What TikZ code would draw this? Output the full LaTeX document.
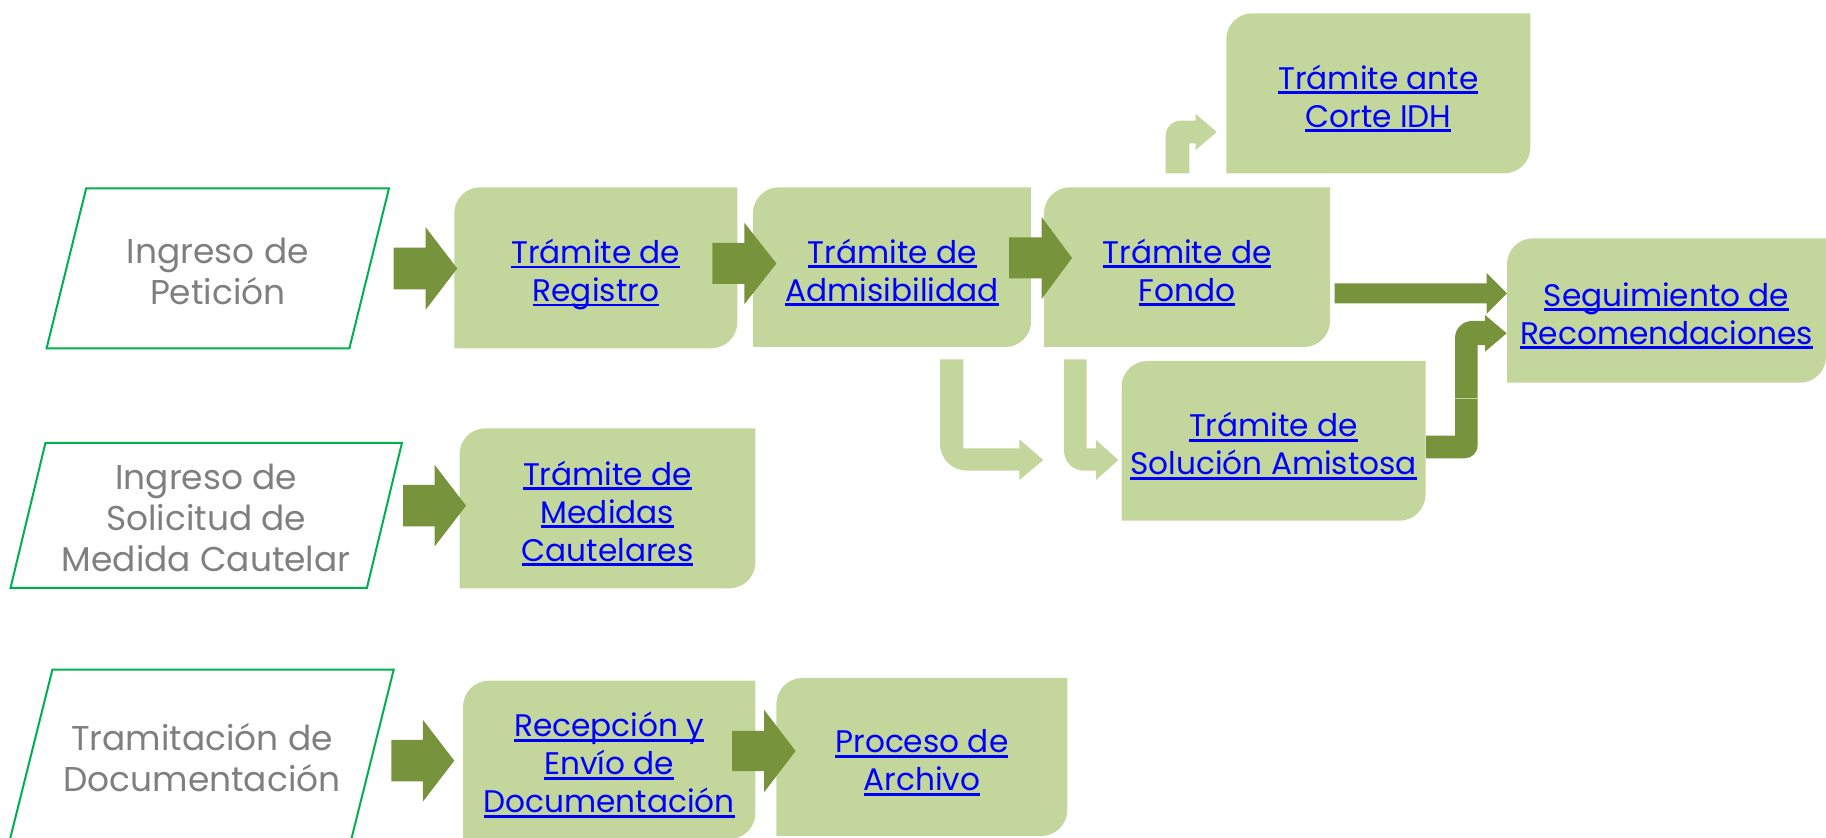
\documentclass[tikz,border=0pt]{standalone}
\usepackage{fontspec}
\setmainfont{Poppins}
\usetikzlibrary{backgrounds}
\definecolor{lgreen}{HTML}{C3D69B}
\definecolor{dgreen}{HTML}{77933C}
\definecolor{pgreen}{HTML}{00B050}
\definecolor{gtext}{HTML}{7F7F7F}
\definecolor{lblue}{HTML}{0000FF}
\lineskiplimit=-100pt
\newcommand\ulk[1]{\setbox0=\hbox{#1}\rlap{\smash{\rule[-2.35pt]{\wd0}{1.35pt}}}\box0\rule[-4pt]{0pt}{23pt}}
\newcommand\gln[1]{#1\rule[-4.4pt]{0pt}{24.1pt}}
\tikzset{
  lnk/.style={align=center, text=lblue, font=\fontsize{15.6}{19}\selectfont, inner sep=0pt},
  gry/.style={align=center, text=gtext, font=\fontsize{17.2}{20.5}\selectfont, inner sep=0pt},
  boxfill/.style={fill=lgreen},
  blk/.style={fill=dgreen},
  lblk/.style={fill=lgreen},
  para/.style={draw=pgreen, line width=1pt, fill=white},
}
% name, x1, y1, x2, y2, text
\newcommand\gbox[6]{%
  \fill[boxfill] (#2,{#3+26}) arc[start angle=180,end angle=90,radius=13pt] -- (#4,#3) -- (#4,{#5-26}) arc[start angle=0,end angle=-90,radius=13pt] -- (#2,#5) -- cycle;
  \node[lnk, minimum width={(#4-#2)*0.5pt}, minimum height={(#5-#3)*0.5pt}] (#1) at ({(#2+#4)/2},{(#3+#5)/2}) {#6};}
% x0, x1, x2, yc, half shaft, half head
\newcommand\barrow[6]{%
  \fill[blk] (#1,{#4-#5}) -- (#2,{#4-#5}) -- (#2,{#4-#6}) -- (#3,#4) -- (#2,{#4+#6}) -- (#2,{#4+#5}) -- (#1,{#4+#5}) -- cycle;}
\begin{document}
\begin{tikzpicture}[x=0.5pt,y=-0.5pt]
\useasboundingbox (0,0) rectangle (1826,838);
\clip (0,0) rectangle (1826,838);

% input parallelograms
\draw[para] (86.2,188.3) -- (389,188.3) -- (349.4,348.3) -- (46.6,348.3) -- cycle;
\node[gry] (pet) at (217.8,268.3) {\gln{Ingreso de}\\\gln{Petición}};
\draw[para] (45.4,443) -- (401.9,443) -- (366.9,588) -- (10.5,588) -- cycle;
\node[gry] (sme) at (206.2,515.5) {\gln{Ingreso de}\\\gln{Solicitud de}\\\gln{Medida Cautelar}};
\draw[para] (52.4,669.7) -- (393.7,669.7) -- (350.6,842) -- (9.3,842) -- cycle;
\node[gry] (tdo) at (202,755.7) {\gln{Tramitación de}\\\gln{Documentación}};

% process boxes
\gbox{reg}{454.3}{187.3}{737.3}{348.3}{\ulk{Trámite de}\\\ulk{Registro}}
\gbox{adm}{753}{187.3}{1031.2}{347}{\ulk{Trámite de}\\\ulk{Admisibilidad}}
\gbox{fon}{1044}{187.3}{1330}{347}{\ulk{Trámite de}\\\ulk{Fondo}}
\gbox{cor}{1226.3}{13.3}{1530.4}{173.3}{\ulk{Trámite ante}\\\ulk{Corte IDH}}
\gbox{seg}{1507}{238.3}{1826}{382.7}{\ulk{Seguimiento de}\\\ulk{Recomendaciones}}
\gbox{sol}{1121.5}{361}{1425.5}{520.7}{\ulk{Trámite de}\\\ulk{Solución Amistosa}}
\gbox{mca}{459.5}{428.3}{755.4}{588.3}{\ulk{Trámite de}\\\ulk{Medidas}\\\ulk{Cautelares}}
\gbox{rec}{463}{680.7}{755.4}{839}{\ulk{Recepción y}\\\ulk{Envío de}\\\ulk{Documentación}}
\gbox{arch}{776.4}{678}{1067.3}{836}{\ulk{Proceso de}\\\ulk{Archivo}}

% straight block arrows
\barrow{393.7}{425.7}{457.2}{268.5}{20.8}{41.2}
\barrow{712.3}{744.3}{776.4}{263.5}{20.5}{40.8}
\barrow{1009.1}{1041.7}{1072}{258}{20.5}{41}
\barrow{1334.7}{1486.7}{1507}{293.3}{10}{20.3}
\barrow{403}{434.5}{466}{505.7}{20.7}{41}
\barrow{391.4}{422.8}{454.3}{760.7}{20.7}{41}
\barrow{732.1}{764.1}{795.6}{751}{20.2}{41.2}

% bent light arrows
\fill[lblk] (1165.7,173.3) -- (1165.7,135.7) arc[start angle=180,end angle=90,radius=7.5pt] -- (1195.7,120.7) -- (1195.7,114) -- (1216.7,132) -- (1195.7,150) -- (1195.7,143.3) -- (1189.3,143.3) -- (1189.3,173.3) -- cycle;
\fill[lblk] (940,359.3) -- (940,443.7) arc[start angle=180,end angle=270,radius=13.5pt] -- (1019.3,470.7) -- (1019.3,480) -- (1043.3,460) -- (1019.3,439.3) -- (1019.3,448.3) -- (963.3,448.3) -- (963.3,359.3) -- cycle;
\fill[lblk] (1064,359.3) -- (1064,450.7) arc[start angle=180,end angle=270,radius=10pt] -- (1096,470.7) -- (1096,480) -- (1118.3,460) -- (1096,440) -- (1096,448.3) -- (1086.7,448.3) -- (1086.7,359.3) -- cycle;

% bent dark arrow
\fill[blk] (1426,435.7) -- (1455,435.7) -- (1455,338) arc[start angle=180,end angle=90,radius=8.5pt] -- (1485,321) -- (1485,315) -- (1506.7,333.3) -- (1485,351.7) -- (1485,345) -- (1477.7,345) -- (1477.7,445.3) arc[start angle=0,end angle=-90,radius=6.5pt] -- (1426,458.3) -- cycle;
\draw[lgreen, line width=0.5pt] (1455,398.3) -- (1477.7,398.3);
\end{tikzpicture}
\end{document}
